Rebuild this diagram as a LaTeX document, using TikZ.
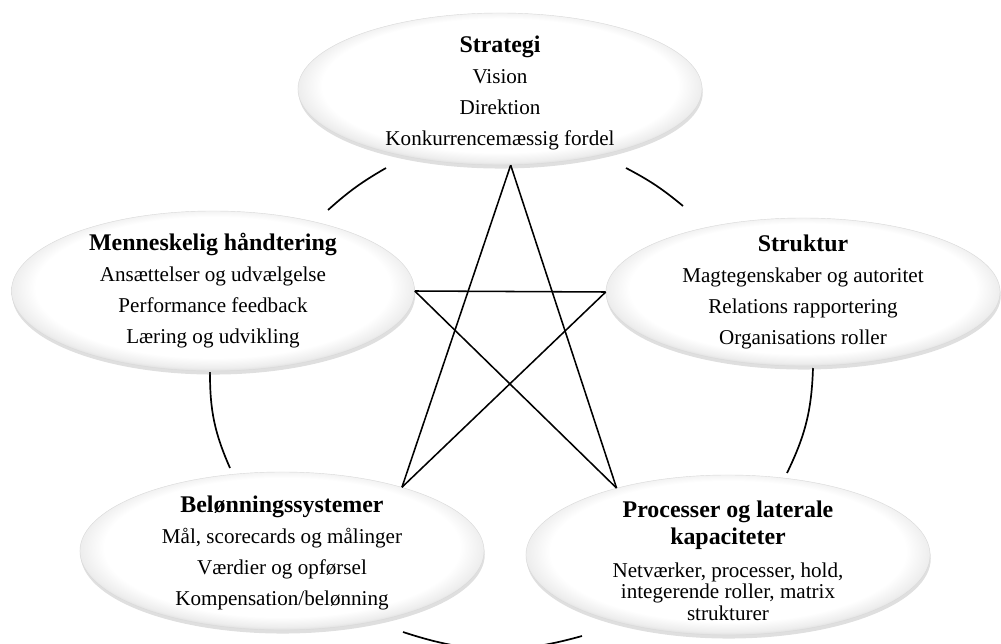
\documentclass[tikz,border=0pt]{standalone}
\usepackage{fontspec}
\setmainfont{Liberation Serif}
\usetikzlibrary{shapes.geometric,shadows}

\pgfdeclareradialshading{boblefyld}{\pgfpoint{0bp}{2bp}}{color(0bp)=(white); color(22bp)=(white); color(25bp)=(black!7); color(27bp)=(black!18); color(29bp)=(black!32); color(31bp)=(black!40); color(50bp)=(black!40)}

\tikzset{
  boble/.style={ellipse, draw=black!15, line width=0.3pt, shade, shading=boblefyld,
    inner sep=0pt, drop shadow={opacity=0.25, shadow xshift=0.5pt, shadow yshift=-2.5pt}},
  tekst/.style={align=center, font=\fontsize{15}{22}\selectfont},
  streg/.style={line width=1.1pt},
  bue/.style={line width=1.2pt}
}

\begin{document}
\begin{tikzpicture}[x=0.025cm, y=-0.025cm]
	\useasboundingbox (0,0) rectangle (1001,644);

	\coordinate (a1) at (386,168);
	\coordinate (a2) at (328,210);
	\coordinate (b1) at (626,168);
	\coordinate (b2) at (683,206);
	\coordinate (c1) at (210,372);
	\coordinate (c2) at (230,468);
	\coordinate (d1) at (813,368);
	\coordinate (d2) at (787,473);
	\coordinate (e1) at (403,632);
	\coordinate (e2) at (582,636);
	\draw [bue] (a1) to [bend right=6] (a2);
	\draw [bue] (b1) to [bend left=6] (b2);
	\draw [bue] (c1) to [bend right=12] (c2);
	\draw [bue] (d1) to [bend left=12] (d2);
	\draw [bue] (e1) to [bend right=17] (e2);

	\node [boble, minimum width=10.1cm, minimum height=3.8cm] (ST) at (500, 89) {};
	\node [boble, minimum width=10.075cm, minimum height=4cm] (MH) at (213, 291) {};
	\node [boble, minimum width=9.85cm, minimum height=3.7cm] (SK) at (803, 292) {};
	\node [boble, minimum width=10.1cm, minimum height=3.95cm] (BS) at (282, 551) {};
	\node [boble, minimum width=10.1cm, minimum height=4cm] (PL) at (728, 555) {};

	\node [tekst] (STt) at (500, 93) {\textbf{\fontsize{17}{22}\selectfont Strategi}\\ Vision\\ Direktion\\ Konkurrencemæssig fordel};
	\node [tekst] (MHt) at (MH) {\textbf{\fontsize{17}{22}\selectfont Menneskelig håndtering}\\ Ansættelser og udvælgelse\\ Performance feedback\\ Læring og udvikling};
	\node [tekst] (SKt) at (SK) {\textbf{\fontsize{17}{22}\selectfont Struktur}\\ Magtegenskaber og autoritet\\ Relations rapportering\\ Organisations roller};
	\node [tekst] (BSt) at (282, 553) {\textbf{\fontsize{17}{22}\selectfont Belønningssystemer}\\ Mål, scorecards og målinger\\ Værdier og opførsel\\ Kompensation/belønning};
	\node [tekst, font=\fontsize{15}{15.5}\selectfont] (PLt) at (728, 561) {\textbf{\fontsize{17}{18}\selectfont Processer og laterale}\\[2.3pt] \textbf{\fontsize{17}{18}\selectfont kapaciteter}\\[8pt] Netværker, processer, hold,\\ integerende roller, matrix\\ strukturer};

	\draw [streg] (ST.-82) -- (BS.28);
	\draw [streg] (ST.-82) -- (PL.149);
	\draw [streg] (MH.east) -- (SK.west);
	\draw [streg] (MH.east) -- (PL.149);
	\draw [streg] (SK.west) -- (BS.28);
\end{tikzpicture}
\end{document}
